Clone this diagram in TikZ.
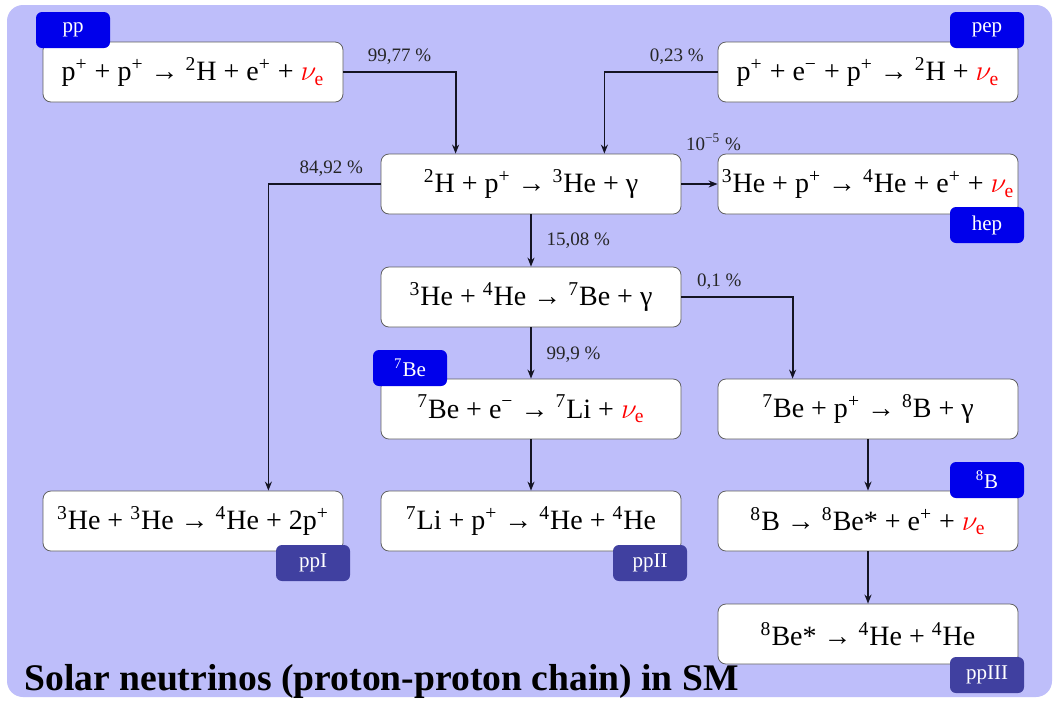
\documentclass[tikz,border=0pt]{standalone}
\usepackage{fontspec}
\setmainfont{Liberation Serif}
\usepackage{xcolor}
\usepackage{tikz}
\usetikzlibrary{arrows.meta, positioning}
\definecolor{cbg}   {RGB}{190,190,250}
\definecolor{ctag}  {RGB}{0,0,235}
\definecolor{cchain}{RGB}{64,64,160}
\definecolor{cline} {RGB}{20,20,35}
\newcommand{\nue}{\textcolor{red}{$\nu_{\mathrm{e}}$}}
\newcommand{\iso}[2]{\textsuperscript{#1}#2}
\newcommand{\sups}[1]{\textsuperscript{#1}}
\tikzset{
  rx/.style={rectangle, rounded corners=4pt,
             draw=gray!75!black, fill=white,
             font=\fontsize{14}{17}\selectfont,
             minimum width=150pt, minimum height=30pt, inner sep=0pt},
  tag/.style={rectangle, rounded corners=3pt, fill=#1, text=white,
              font=\fontsize{10.5}{12}\selectfont,
              minimum width=37pt, minimum height=18pt, inner sep=0pt},
  arr/.style={-{Stealth[length=4.5pt,width=3.5pt]}, line width=0.9pt, color=cline},
  lbl/.style={font=\fontsize{9.5}{11}\selectfont, text=black!85},
}
\begin{document}
\begin{tikzpicture}[x=0.5pt, y=-0.5pt]
  % ── Background ─────────────────────────────────────────────────────────────
  \fill[white] (0,0) rectangle (1058,703);
  \fill[cbg, rounded corners=8pt] (7,5) rectangle (1052,697);

  % ── Reactions ──────────────────────────────────────────────────────────────
  \node[rx] at (193, 72) (pp)
      {p\sups{+} + p\sups{+} → \iso{2}{H} + e\sups{+} + \nue};
  \node[rx] at (868, 72) (pep)
      {p\sups{+} + e\sups{−} + p\sups{+} → \iso{2}{H} + \nue};
  \node[rx] at (531,184) (deut)
      {\iso{2}{H} + p\sups{+} → \iso{3}{He} + γ};
  \node[rx] at (868,184) (hep)
      {\iso{3}{He} + p\sups{+} → \iso{4}{He} + e\sups{+} + \nue};
  \node[rx] at (531,297) (hethree)
      {\iso{3}{He} + \iso{4}{He} → \iso{7}{Be} + γ};
  \node[rx] at (531,409) (beseven)
      {\iso{7}{Be} + e\sups{−} → \iso{7}{Li} + \nue};
  \node[rx] at (868,409) (bcapt)
      {\iso{7}{Be} + p\sups{+} → \iso{8}{B} + γ};
  \node[rx] at (193,521) (hehe)
      {\iso{3}{He} + \iso{3}{He} → \iso{4}{He} + 2p\sups{+}};
  \node[rx] at (531,521) (liseven)
      {\iso{7}{Li} + p\sups{+} → \iso{4}{He} + \iso{4}{He}};
  \node[rx] at (868,521) (beight)
      {\iso{8}{B} → \iso{8}{Be}* + e\sups{+} + \nue};
  \node[rx] at (868,634) (beeight)
      {\iso{8}{Be}* → \iso{4}{He} + \iso{4}{He}};

  % ── Neutrino / chain tags ──────────────────────────────────────────────────
  \node[tag=ctag]   at ( 73, 30) (tpp)    {pp};
  \node[tag=ctag]   at (987, 30) (tpep)   {pep};
  \node[tag=ctag]   at (987,225) (thep)   {hep};
  \node[tag=ctag]   at (410,368) (tbe)    {\iso{7}{Be}};
  \node[tag=ctag]   at (987,480) (tb)     {\iso{8}{B}};
  \node[tag=cchain] at (313,563) (tppi)   {ppI};
  \node[tag=cchain] at (650,563) (tppii)  {ppII};
  \node[tag=cchain] at (987,675) (tppiii) {ppIII};

  % ── Title ──────────────────────────────────────────────────────────────────
  \node[anchor=west, inner sep=0pt, font=\bfseries\fontsize{18.8}{22}\selectfont]
      at (24,681) (title) {Solar neutrinos (proton-proton chain) in SM};

  % ── Arrows ─────────────────────────────────────────────────────────────────
  \draw[arr] (pp.east) -| node[lbl, pos=0.25, above] {99,77 \%}
      ([xshift=37.5pt]deut.north west);
  \draw[arr] (pep.west) -| node[lbl, pos=0.18, above] {0,23 \%}
      ([xshift=-38.5pt]deut.north east);
  \draw[arr] (deut.west) -| node[lbl, pos=0.22, above] {84,92 \%}
      ([xshift=-37.5pt]hehe.north east);
  \draw[arr] (deut) -- node[lbl, above=13pt, xshift=7pt] {10\sups{−5} \%} (hep);
  \draw[arr] (deut) -- node[lbl, right=4pt] {15,08 \%} (hethree);
  \draw[arr] (hethree.east) -| node[lbl, pos=0.17, above] {0,1 \%}
      ([xshift=37.5pt]bcapt.north west);
  \draw[arr] (hethree) -- node[lbl, right=4pt, yshift=-1pt] {99,9 \%} (beseven);
  \draw[arr] (beseven) -- (liseven);
  \draw[arr] (bcapt) -- (beight);
  \draw[arr] (beight) -- (beeight);
\end{tikzpicture}
\end{document}
